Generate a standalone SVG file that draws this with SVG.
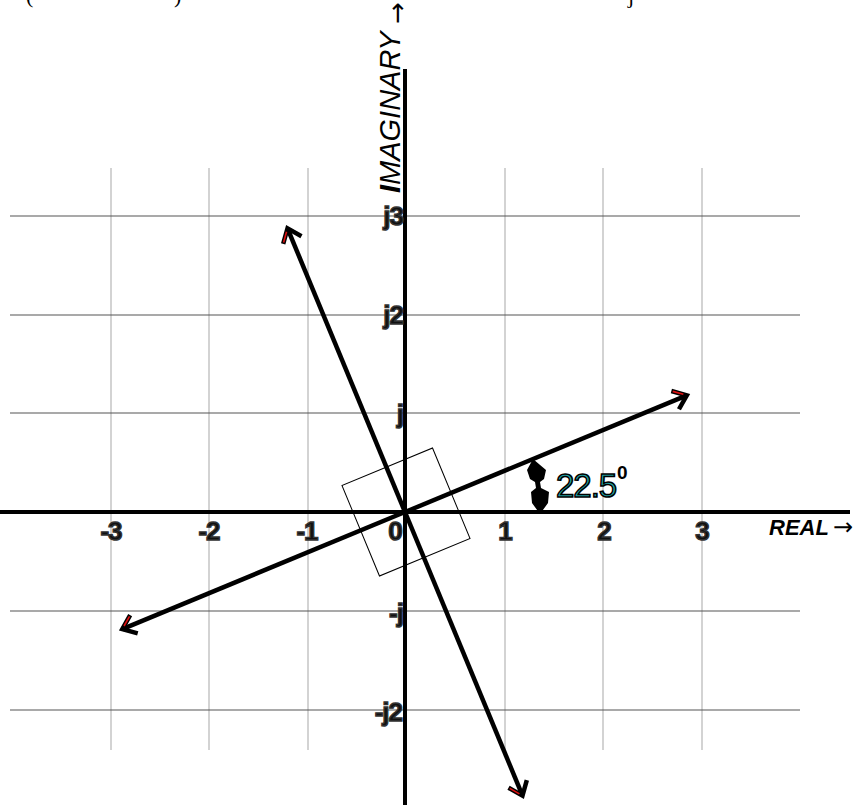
<svg xmlns="http://www.w3.org/2000/svg" width="864" height="805" viewBox="0 0 864 805">
<style>
.hg{stroke:#555;stroke-width:1.2}
.vg{stroke:#c4c4c4;stroke-width:1.5}
.axis{stroke:#000;stroke-width:4}
.vec{stroke:#000;stroke-width:4.5;fill:none}
.lbl{font-family:"Liberation Sans",Arial,sans-serif;font-weight:bold;font-size:26px;fill:#111;stroke:#333;stroke-width:1.4;letter-spacing:-1px}
.frag{font-family:"Liberation Serif","Times New Roman",serif;font-size:22px;fill:#000}
</style>
<defs>
<marker id="mA" markerUnits="userSpaceOnUse" orient="auto" overflow="visible" markerWidth="1" markerHeight="1" refX="0" refY="0">
<path d="M-12.6,-9.9 L0,0 L-12.6,9.9" fill="none" stroke="#000" stroke-width="4.5"/>
<path d="M-2.8,-2.2 L-11.5,-9" stroke="#e01010" stroke-width="1.6"/>
</marker>
<marker id="mB" markerUnits="userSpaceOnUse" orient="auto" overflow="visible" markerWidth="1" markerHeight="1" refX="0" refY="0">
<path d="M-12.6,-9.9 L0,0 L-12.6,9.9" fill="none" stroke="#000" stroke-width="4.5"/>
<path d="M-2.8,2.2 L-11.5,9" stroke="#e01010" stroke-width="1.6"/>
</marker>
</defs>
<rect width="864" height="805" fill="#fff"/>
<g id="fragments">
<text class="frag" x="26" y="3">(</text>
<text class="frag" x="174" y="3">)</text>
<text class="frag" x="628" y="3">j</text>
</g>
<g id="grid">
<line class="vg" x1="111" y1="168" x2="111" y2="750"/>
<line class="vg" x1="209" y1="168" x2="209" y2="750"/>
<line class="vg" x1="308" y1="168" x2="308" y2="750"/>
<line class="vg" x1="505" y1="168" x2="505" y2="750"/>
<line class="vg" x1="603" y1="168" x2="603" y2="750"/>
<line class="vg" x1="702" y1="168" x2="702" y2="750"/>
<line class="hg" x1="10" y1="216" x2="800" y2="216"/>
<line class="hg" x1="10" y1="315" x2="800" y2="315"/>
<line class="hg" x1="10" y1="413" x2="800" y2="413"/>
<line class="hg" x1="10" y1="611" x2="800" y2="611"/>
<line class="hg" x1="10" y1="710" x2="800" y2="710"/>
</g>
<g id="axes">
<line class="axis" x1="0" y1="512" x2="850" y2="512"/>
<line class="axis" x1="405" y1="69" x2="405" y2="805"/>
</g>
<g id="square">
<rect x="-49" y="-49" width="98" height="98" fill="none" stroke="#000" stroke-width="1" transform="translate(406,512) rotate(-22.5)"/>
</g>
<g id="connectors">
<line class="vec" x1="405" y1="512" x2="686.8" y2="395.3" marker-end="url(#mA)"/>
<line class="vec" x1="405" y1="512" x2="287.5" y2="228.4" marker-end="url(#mA)"/>
<line class="vec" x1="405" y1="512" x2="122.3" y2="629.1" marker-end="url(#mB)"/>
<line class="vec" x1="405" y1="512" x2="522.5" y2="795.6" marker-end="url(#mB)"/>
</g>
<g id="angle">
<path d="M533,459 L546,470 L544,479 L540,482 L541,488 L549,492 L548,503 L540,514 L532,503 L531,492 L536,488 L535,482 L530,479 L527,470 Z" fill="#000"/>
<text x="556" y="497" font-family="Liberation Sans,Arial,sans-serif" font-size="33" fill="#22a6a6" stroke="#000" stroke-width="1.5" letter-spacing="-1">22.5</text>
<text x="617" y="479" font-family="Liberation Sans,Arial,sans-serif" font-weight="bold" font-size="19" fill="#000">0</text>
</g>
<g id="xlabels">
<text class="lbl" x="111" y="540" text-anchor="middle">-3</text>
<text class="lbl" x="209" y="540" text-anchor="middle">-2</text>
<text class="lbl" x="307" y="540" text-anchor="middle">-1</text>
<text class="lbl" x="395" y="540" text-anchor="middle">0</text>
<text class="lbl" x="505" y="540" text-anchor="middle">1</text>
<text class="lbl" x="604" y="540" text-anchor="middle">2</text>
<text class="lbl" x="702" y="540" text-anchor="middle">3</text>
</g>
<g id="ylabels">
<text class="lbl" x="403" y="225" text-anchor="end">j3</text>
<text class="lbl" x="403" y="324" text-anchor="end">j2</text>
<text class="lbl" x="403" y="423" text-anchor="end">j</text>
<text class="lbl" x="403" y="622" text-anchor="end">-j</text>
<text class="lbl" x="402" y="721" text-anchor="end">-j2</text>
</g>
<g id="axis-titles">
<text transform="translate(400,193) rotate(-90)" font-family="Liberation Sans,Arial,sans-serif" font-style="italic" font-size="29" fill="#000"><tspan font-weight="bold">I</tspan>MAGINARY <tspan font-family="DejaVu Sans,sans-serif" font-style="normal" font-size="26" dy="6">→</tspan></text>
<text x="769" y="535" font-family="Liberation Sans,Arial,sans-serif" font-style="italic" font-weight="bold" font-size="22" fill="#000">REAL<tspan font-family="DejaVu Sans,sans-serif" font-style="normal" font-weight="normal" font-size="24" dx="4">→</tspan></text>
</g>
</svg>
